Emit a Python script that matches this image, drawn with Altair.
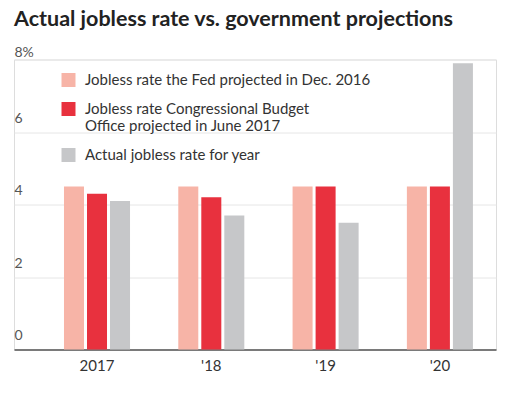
import altair as alt
import pandas as pd

years = ["2017", "'18", "'19", "'20"]
series = [
    "Jobless rate the Fed projected in Dec. 2016",
    "Jobless rate Congressional Budget\nOffice projected in June 2017",
    "Actual jobless rate for year",
]
fed = [4.5, 4.5, 4.5, 4.5]
cbo = [4.3, 4.2, 4.5, 4.5]
actual = [4.1, 3.7, 3.5, 7.9]
colors = ["#f7b4a7", "#e8313e", "#c6c7c9"]
y_ticks = [0, 2, 4, 6, 8]

rows = []
for s, vals in zip(series, [fed, cbo, actual]):
    for yr, v in zip(years, vals):
        rows.append({"year": yr, "series": s, "rate": v})
df = pd.DataFrame(rows)

FONT = "Lato"

bars = alt.Chart(df).mark_bar().encode(
    x=alt.X(
        "year:N",
        sort=years,
        scale=alt.Scale(paddingInner=0.396, paddingOuter=0.3065, align=0.692),
        axis=alt.Axis(
            title=None,
            ticks=False,
            labelAngle=0,
            labelPadding=9,
            labelFontSize=15,
            labelColor="#333333",
            labelFont=FONT,
            domainColor="#555555",
            domainWidth=1.5,
        ),
    ),
    xOffset=alt.XOffset(
        "series:N",
        sort=series,
        scale=alt.Scale(paddingInner=0.1304, paddingOuter=0.0652),
    ),
    y=alt.Y(
        "rate:Q",
        scale=alt.Scale(domain=[0, 8], nice=False),
        axis=alt.Axis(
            title=None,
            values=y_ticks,
            ticks=False,
            domain=False,
            labelAlign="left",
            labelBaseline="bottom",
            labelPadding=0,
            labelOffset={"condition": {"test": "datum.value == 8", "value": 0}, "value": -7},
            labelExpr="datum.value == 8 ? '8%' : datum.label",
            labelFontSize=14,
            labelColor="#555555",
            labelFont=FONT,
            gridColor="#e6e6e6",
            gridWidth=1,
        ),
    ),
    color=alt.Color(
        "series:N",
        sort=series,
        scale=alt.Scale(domain=series, range=colors),
        legend=alt.Legend(
            title=None,
            orient="none",
            legendX=47,
            legendY=13,
            padding=0,
            symbolType="square",
            symbolSize=196,
            symbolStrokeWidth=0,
            symbolOpacity=1,
            labelFontSize=15,
            labelFont=FONT,
            labelColor="#333333",
            labelLimit=500,
            labelOffset=9,
            rowPadding=13,
            labelExpr="split(datum.label, '\\n')",
        ),
    ),
).properties(
    width=482,
    height=290,
    title=alt.TitleParams(
        "Actual jobless rate vs. government projections",
        anchor="start",
        frame="group",
        font=FONT,
        fontSize=21.5,
        fontWeight="bold",
        color="#222222",
        offset=15,
    ),
)

chart = bars.properties(
    autosize=alt.AutoSizeParams(type="none"),
    padding={"left": 6, "top": 51.5, "right": 2, "bottom": 40},
).configure_view(stroke=None).configure(background="white")

chart.save("out.html", embed_options={"renderer": "svg", "actions": False})
